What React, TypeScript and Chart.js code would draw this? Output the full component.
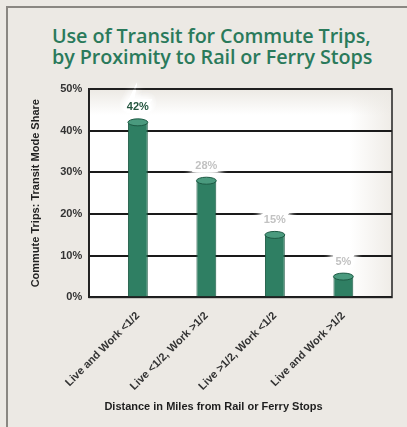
import React, { useEffect, useRef } from "react";
import { Chart, registerables, CategoryScale } from "chart.js";

class PaddedCategoryScale extends (CategoryScale as any) {
  static id = "paddedCategory";
  static defaults = (CategoryScale as any).defaults;
  buildTicks() {
    const ticks = super.buildTicks();
    const extra = (this as any).options.extraOffset || 0;
    (this as any)._startValue -= extra;
    (this as any)._valueRange += extra * 2;
    return ticks;
  }
}

Chart.register(...registerables, PaddedCategoryScale as any);

const categories = [
  "Live and Work <1/2",
  "Live <1/2, Work >1/2",
  "Live >1/2, Work <1/2",
  "Live and Work >1/2",
];
const shareValues = [42, 28, 15, 5];
const valueLabels = ["42%", "28%", "15%", "5%"];
const yTickValues = [0, 10, 20, 30, 40, 50];

const BG = "#ece9e4";
const FONT = "'Liberation Sans', Arial, sans-serif";

const plotBgPlugin = {
  id: "plotBg",
  beforeDraw(chart: any) {
    const { ctx, chartArea: a } = chart;
    ctx.save();
    const g = ctx.createLinearGradient(a.left, 0, a.right, 0);
    g.addColorStop(0, "#ffffff");
    g.addColorStop(0.86, "#ffffff");
    g.addColorStop(1, "#efece7");
    ctx.fillStyle = g;
    ctx.fillRect(a.left, a.top, a.right - a.left, a.bottom - a.top);
    const g2 = ctx.createLinearGradient(0, a.top, 0, a.top + 26);
    g2.addColorStop(0, "rgba(236,233,228,1)");
    g2.addColorStop(1, "rgba(236,233,228,0)");
    ctx.fillStyle = g2;
    ctx.fillRect(a.left, a.top, a.right - a.left, 26);
    ctx.restore();
  },
  afterDraw(chart: any) {
    const { ctx, chartArea: a } = chart;
    ctx.save();
    ctx.strokeStyle = "#222";
    ctx.lineWidth = 1.5;
    ctx.strokeRect(a.left, a.top, a.right - a.left, a.bottom - a.top);
    ctx.fillStyle = "#1e1e1e";
    ctx.font = "bold 11px " + FONT;
    ctx.textAlign = "center";
    ctx.textBaseline = "middle";
    ctx.fillText("Distance in Miles from Rail or Ferry Stops", chart.width / 2 + 10, 407);
    ctx.restore();
  },
};

const valueLabelPlugin = {
  id: "valueLabels",
  afterDatasetsDraw(chart: any) {
    const { ctx } = chart;
    const meta = chart.getDatasetMeta(0);
    ctx.save();
    ctx.font = "bold 11px " + FONT;
    ctx.textAlign = "center";
    ctx.textBaseline = "middle";
    meta.data.forEach((bar: any, i: number) => {
      const y = bar.y - 15;
      ctx.save();
      ctx.shadowColor = "rgba(255,255,255,1)";
      ctx.shadowBlur = 8;
      ctx.fillStyle = "#ffffff";
      ctx.strokeStyle = "#ffffff";
      ctx.lineWidth = 6;
      for (let k = 0; k < 3; k++) {
        ctx.strokeText(valueLabels[i], bar.x, y);
        ctx.fillText(valueLabels[i], bar.x, y);
      }
      ctx.restore();
      ctx.fillStyle = i === 0 ? "#24553f" : "#c2c2c2";
      ctx.fillText(valueLabels[i], bar.x, y);
    });
    ctx.restore();
  },
};

const cylinderPlugin = {
  id: "cylinder",
  afterDatasetsDraw(chart: any) {
    const { ctx } = chart;
    const meta = chart.getDatasetMeta(0);
    ctx.save();
    meta.data.forEach((bar: any) => {
      const w = bar.width;
      ctx.fillStyle = "#4a9a7e";
      ctx.strokeStyle = "#1d5a44";
      ctx.lineWidth = 1;
      ctx.beginPath();
      ctx.ellipse(bar.x, bar.y, w / 2, 3.5, 0, 0, Math.PI * 2);
      ctx.fill();
      ctx.stroke();
    });
    ctx.restore();
  },
};

export default function App() {
  const ref = useRef<HTMLCanvasElement>(null);
  useEffect(() => {
    if (!ref.current) return;
    const chart = new Chart(ref.current, {
      type: "bar",
      data: {
        labels: categories,
        datasets: [
          {
            data: shareValues,
            backgroundColor: (c: any) => {
              const el = c.element;
              const ctx = c.chart.ctx;
              if (!el || !el.width) return "#2f7f63";
              const g = ctx.createLinearGradient(el.x - el.width / 2, 0, el.x + el.width / 2, 0);
              g.addColorStop(0, "#1f5e48");
              g.addColorStop(0.4, "#4a9a7e");
              g.addColorStop(1, "#21634b");
              return g;
            },
            borderColor: "#1d5a44",
            borderWidth: 1,
            barPercentage: 0.29,
            categoryPercentage: 1,
          },
        ],
      },
      options: {
        responsive: false,
        animation: false,
        layout: { padding: { top: 89, left: 29, right: 15, bottom: 30 } },
        plugins: {
          legend: { display: false },
          tooltip: { enabled: false },
          title: { display: false },
        },
        scales: {
          x: {
            type: "paddedCategory",
            extraOffset: 0.21,
            grid: { display: false },
            border: { display: false },
            ticks: {
              maxRotation: 45,
              minRotation: 45,
              color: "#333",
              font: { family: FONT, size: 11, weight: "bold" },
              padding: 4,
            },
          } as any,
          y: {
            min: 0,
            max: 50,
            afterBuildTicks: (axis: any) => {
              axis.ticks = yTickValues.map((v) => ({ value: v }));
            },
            grid: { color: "#1a1a1a", lineWidth: 2, drawTicks: false },
            border: { display: true, color: "#222", width: 1.5 },
            ticks: {
              callback: (v: any) => v + "%",
              color: "#333",
              font: { family: FONT, size: 11, weight: "bold" },
              padding: 7,
            },
            title: {
              display: true,
              text: "Commute Trips: Transit Mode Share",
              color: "#222",
              font: { family: FONT, size: 11, weight: "bold" },
              padding: { top: 0, bottom: 11 },
            },
          },
        },
      },
      plugins: [plotBgPlugin, valueLabelPlugin, cylinderPlugin],
    });
    return () => chart.destroy();
  }, []);

  return (
    <div style={{ position: "fixed", left: 0, top: 0, width: 407, height: 427, background: BG, overflow: "hidden" }}>
      <div
        style={{
          position: "absolute",
          left: 6,
          top: 6,
          right: 0,
          bottom: 0,
          borderTop: "2px solid #8a8782",
          borderLeft: "2px solid #8a8782",
        }}
      />
      <div
        style={{
          position: "absolute",
          left: 52,
          top: 25,
          color: "#2a7a5b",
          fontFamily: "'Open Sans', 'DejaVu Sans', sans-serif",
          fontWeight: 600,
          fontSize: 19.8,
          lineHeight: "21px",
          whiteSpace: "nowrap",
          letterSpacing: -0.1,
        }}
      >
        <div>Use of Transit for Commute Trips,</div>
        <div>by Proximity to Rail or Ferry Stops</div>
      </div>
      <canvas ref={ref} width={407} height={427} style={{ position: "absolute", left: 0, top: 0 }} />
    </div>
  );
}
